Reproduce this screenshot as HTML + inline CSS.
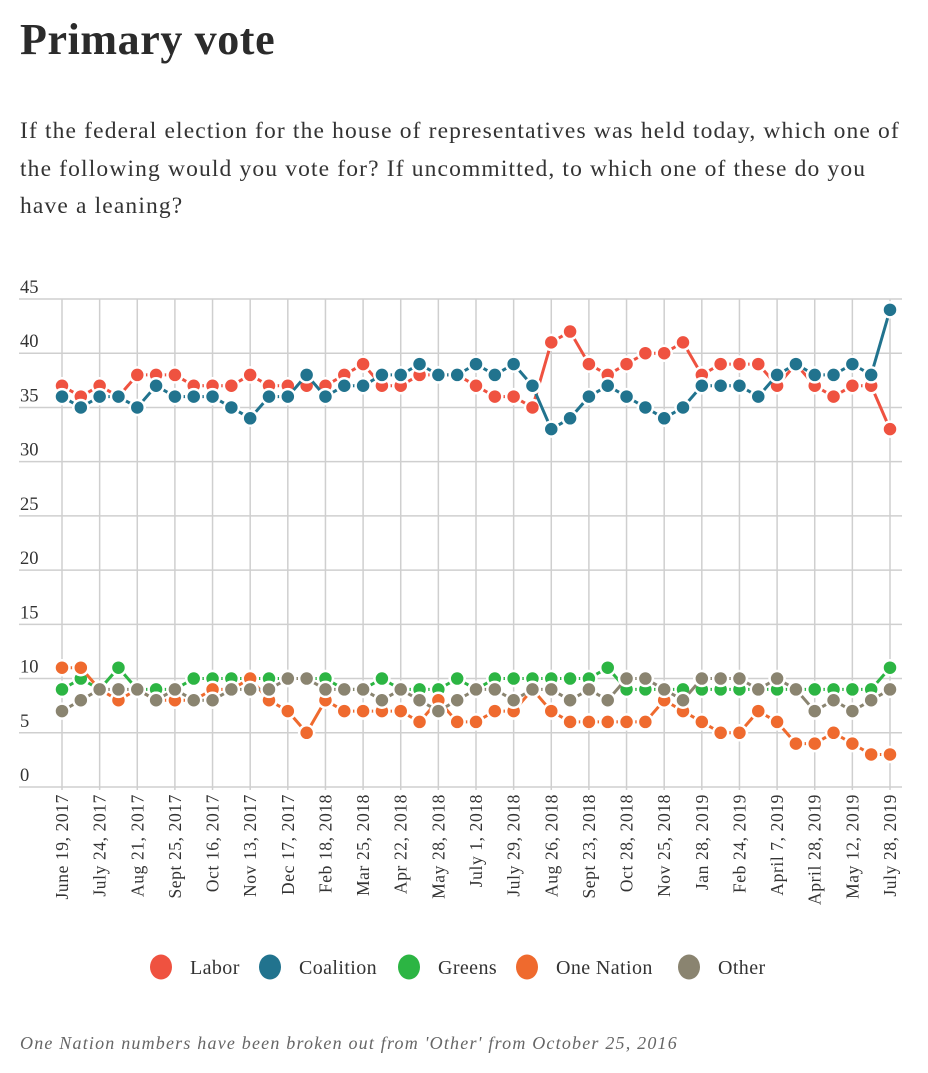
<!DOCTYPE html>
<html><head><meta charset="utf-8">
<style>
body{margin:0;background:#fff;width:928px;height:1073px;overflow:hidden;font-family:"Liberation Serif",serif;color:#333}
#title{position:absolute;left:20px;top:14px;font-size:44px;letter-spacing:0.6px;font-weight:bold;margin:0;color:#2b2b2b}
#sub{position:absolute;left:20px;top:113px;width:910px;font-size:23.5px;letter-spacing:1.15px;line-height:37.5px;color:#333;white-space:nowrap}
#foot{position:absolute;left:20px;top:1033px;font-size:18px;letter-spacing:1.2px;font-style:italic;color:#666;white-space:nowrap}
svg{position:absolute;left:0;top:0}
</style></head><body>
<h1 id="title">Primary vote</h1>
<div id="sub">If the federal election for the house of representatives was held today, which one of<br>the following would you vote for? If uncommitted, to which one of these do you<br>have a leaning?</div>
<svg id="chart" width="928" height="1073"></svg>
<div id="foot">One Nation numbers have been broken out from 'Other' from October 25, 2016</div>
<script>
const dateLabels=["June 19, 2017","July 24, 2017","Aug 21, 2017","Sept 25, 2017","Oct 16, 2017","Nov 13, 2017","Dec 17, 2017","Feb 18, 2018","Mar 25, 2018","Apr 22, 2018","May 28, 2018","July 1, 2018","July 29, 2018","Aug 26, 2018","Sept 23, 2018","Oct 28, 2018","Nov 25, 2018","Jan 28, 2019","Feb 24, 2019","April 7, 2019","April 28, 2019","May 12, 2019","July 28, 2019"];
const yTicks=[0,5,10,15,20,25,30,35,40,45];
const labor=[37,36,37,36,38,38,38,37,37,37,38,37,37,37,37,38,39,37,37,38,38,38,37,36,36,35,41,42,39,38,39,40,40,41,38,39,39,39,37,39,37,36,37,37,33];
const coalition=[36,35,36,36,35,37,36,36,36,35,34,36,36,38,36,37,37,38,38,39,38,38,39,38,39,37,33,34,36,37,36,35,34,35,37,37,37,36,38,39,38,38,39,38,44];
const greens=[9,10,9,11,9,9,9,10,10,10,10,10,10,10,10,9,9,10,9,9,9,10,9,10,10,10,10,10,10,11,9,9,9,9,9,9,9,9,9,9,9,9,9,9,11];
const oneNation=[11,11,9,8,9,8,8,8,9,9,10,8,7,5,8,7,7,7,7,6,8,6,6,7,7,9,7,6,6,6,6,6,8,7,6,5,5,7,6,4,4,5,4,3,3];
const other=[7,8,9,9,9,8,9,8,8,9,9,9,10,10,9,9,9,8,9,8,7,8,9,9,8,9,9,8,9,8,10,10,9,8,10,10,10,9,10,9,7,8,7,8,9];
const seriesNames=["Labor","Coalition","Greens","One Nation","Other"];
const seriesColors=["#ef5240","#21738e","#2cb543","#ef6a2e","#8a8470"];
const seriesData=[labor,coalition,greens,oneNation,other];

const NS="http://www.w3.org/2000/svg";
const svg=document.getElementById('chart');
const X0=62,X1=890,Y0=787,Y45=299;
const n=labor.length;
function xs(i){return X0+(X1-X0)*i/(n-1);}
function ys(v){return Y0-(Y0-Y45)*v/45;}
function mk(t,a,p){const e=document.createElementNS(NS,t);for(const k in a)e.setAttribute(k,a[k]);(p||svg).appendChild(e);return e;}

const grid=mk('g',{});


yTicks.forEach(v=>{
  const l=mk('line',{x1:19,x2:902,y1:ys(v),y2:ys(v),stroke:'#cfcfcf','stroke-width':1.5},grid);
  
  
  const t=mk('text',{x:20,y:ys(v)-6,'font-size':18.5,fill:'#333','font-family':'Liberation Serif, serif'});
  t.textContent=v;
  
  
});
dateLabels.forEach((d,k)=>{
  const x=xs(k*2);
  const l=mk('line',{x1:x,x2:x,y1:Y45,y2:Y0+3,stroke:'#cfcfcf','stroke-width':1.5},grid);
  
  
  const t=mk('text',{x:0,y:0,'font-size':17.5,'letter-spacing':0.6,fill:'#333','text-anchor':'end','font-family':'Liberation Serif, serif',transform:`translate(${x+6},794) rotate(-90)`});
  t.textContent=d;
  
  
});

seriesData.forEach((arr,s)=>{
  const g=mk('g',{});
  
  
  const d=arr.map((v,i)=>(i?'L':'M')+xs(i)+','+ys(v)).join(' ');
  const p=mk('path',{d:d,fill:'none',stroke:seriesColors[s],'stroke-width':3},g);
  
  
  arr.forEach((v,i)=>{
    const c=mk('circle',{cx:xs(i),cy:ys(v),r:7.5,fill:seriesColors[s],stroke:'#fff','stroke-width':2.5},g);
    
    
  });
});

const legX=[161,270,409,527,689];
const lg=mk('g',{});


seriesNames.forEach((nm,s)=>{
  const e=mk('g',{},lg);
  
  
  mk('ellipse',{cx:legX[s],cy:967,rx:11,ry:12.5,fill:seriesColors[s]},e);
  const t=mk('text',{x:legX[s]+29,y:974,'font-size':20,'letter-spacing':0.4,fill:'#333','font-family':'Liberation Serif, serif'},e);
  t.textContent=nm;
});
</script>
</body></html>
